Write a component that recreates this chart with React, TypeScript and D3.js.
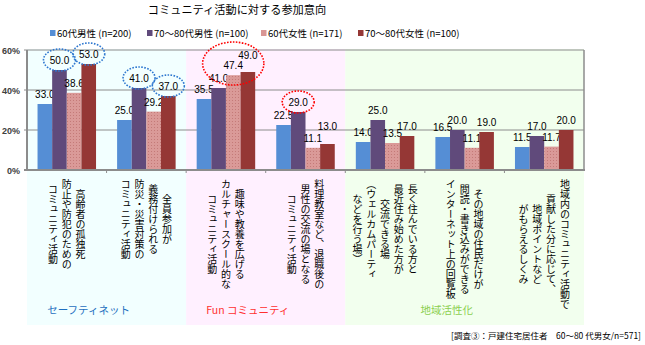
import React from 'react';
import * as d3 from 'd3';

const title = 'コミュニティ活動に対する参加意向';
const seriesNames = ['60代男性 (n=200)', '70～80代男性 (n=100)', '60代女性 (n=171)', '70～80代女性 (n=100)'];
const seriesColors = ['#558ED5', '#604A7B', 'url(#pinkDots)', '#953735'];
const legendColors = ['#558ED5', '#604A7B', '#D99694', '#953735'];

const categoryLines: string[][] = [
  ['高齢者の孤独死', '防止や防犯のための', 'コミュニティ活動'],
  ['全員参加が', '義務付けられる', '防災・災害対策の', 'コミュニティ活動'],
  ['趣味や教養を広げる', 'カルチャースクール的な', 'コミュニティ活動'],
  ['料理教室など、退職後の', '男性の交流の場となる', 'コミュニティ活動'],
  ['長く住んでいる方と', '最近住み始めた方が', '交流できる場', '（ウェルカムパーティ', 'などを行う場）'],
  ['その地域の住民だけが', '閲読・書き込みができる', 'インターネット上の回覧板'],
  ['地域内のコミュニティ活動で', '貢献した分に応じて、', '地域ポイントなど', 'がもらえるしくみ'],
];

const male60 = [33.0, 25.0, 35.5, 22.5, 14.0, 16.5, 11.5];
const male7080 = [50.0, 41.0, 41.0, 29.0, 25.0, 20.0, 17.0];
const female60 = [38.6, 29.2, 47.4, 11.1, 13.5, 11.1, 11.7];
const female7080 = [53.0, 37.0, 49.0, 13.0, 17.0, 19.0, 20.0];
const seriesValues = [male60, male7080, female60, female7080];

const yTicks = [0, 20, 40, 60];

const sectionNames = ['セーフティネット', 'Fun コミュニティ', '地域活性化'];
const sectionStart = [0, 2, 4];
const sectionEnd = [2, 4, 7];
const sectionBg = ['#F2FFFF', '#FFF0FF', '#F2FFEE'];
const sectionText = ['#1F6FC0', '#FF3030', '#8CCF50'];

// highlighted labels: category, series list, colour
const highlightCats = [0, 0, 1, 1, 2, 3];
const highlightSeries = [[1], [3], [1], [3], [1, 2, 3], [1]];
const highlightColors = ['#2F78D0', '#2F78D0', '#2F78D0', '#2F78D0', '#FF0000', '#FF0000'];

// labels that were moved by hand in the original
const nudgeCat = [2, 3];
const nudgeSeries = [3, 3];
const nudgeDy = [-7, -8];

const footnote = '[調査③：戸建住宅居住者　60～80 代男女/n=571]';

const W = 645, H = 345;
const left = 27, right = 584, top = 50, bottom = 170;
const jp = '"Noto Sans CJK JP", sans-serif';
const num = '"Liberation Sans", Arial, sans-serif';

export default function App() {
  const idx = d3.range(categoryLines.length);
  const x = d3.scaleBand<number>().domain(idx).range([left, right]).padding(0);
  const xs = d3.scaleBand<number>().domain(d3.range(4)).range([0, x.bandwidth()]).paddingInner(0).paddingOuter(0.72);
  const y = d3.scaleLinear().domain([0, 60]).range([bottom, top]);

  const labelPos = (c: number, s: number) => {
    let dy = 0;
    nudgeCat.forEach((nc, k) => { if (nc === c && nudgeSeries[k] === s) dy = nudgeDy[k]; });
    return {
      cx: (x(c) as number) + (xs(s) as number) + xs.bandwidth() / 2,
      cy: y(seriesValues[s][c]) - 10 + dy,
    };
  };

  const fs = 10;
  const colStep = 13.8;
  const textTop = 179;

  return (
    <svg width={W} height={H} style={{ position: 'absolute', left: 0, top: 0 }}>
      <defs>
        <pattern id="pinkDots" width="3" height="3" patternUnits="userSpaceOnUse">
          <rect width="3" height="3" fill="#DA9A98" />
          <rect x="1" y="1" width="1" height="1" fill="#C47A78" />
        </pattern>
      </defs>
      <rect width={W} height={H} fill="#fff" />
      {sectionNames.map((n, i) => {
        const x0 = x(sectionStart[i]) as number;
        const x1 = (x(sectionEnd[i] - 1) as number) + x.bandwidth();
        return <rect key={n} x={x0} y={top - 1} width={x1 - x0} height={326 - top} fill={sectionBg[i]} />;
      })}
      <text x={237} y={14} textAnchor="middle" fontFamily={jp} fontSize={11.2} fill="#000">{title}</text>
      {seriesNames.map((n, i) => {
        const lx = [50, 147, 261, 358][i];
        return (
          <g key={n}>
            <rect x={lx} y={30} width={5.5} height={6} fill={legendColors[i]} />
            <text x={lx + 7} y={36.5} fontFamily={jp} fontSize={9.5} fill="#000">{n}</text>
          </g>
        );
      })}
      {yTicks.filter(t => t > 0).map(t => (
        <line key={t} x1={left - 3} x2={right} y1={y(t)} y2={y(t)} stroke="#8C8C8C" strokeWidth={1} />
      ))}
      <line x1={right} x2={right} y1={top} y2={bottom} stroke="#8C8C8C" strokeWidth={1.5} />
      {yTicks.map(t => (
        <text key={t} x={20} y={y(t) + 3.5} textAnchor="end" fontFamily={num} fontSize={9} fontWeight="bold" fill="#404040">{t}%</text>
      ))}
      {seriesValues.map((vals, s) => (
        <g key={s}>
          {vals.map((v, c) => (
            <rect key={c} x={(x(c) as number) + (xs(s) as number)} y={y(v)} width={xs.bandwidth()} height={bottom - y(v)} fill={seriesColors[s]} />
          ))}
          {vals.map((v, c) => {
            const p = labelPos(c, s);
            return (
              <text key={'l' + c} x={p.cx} y={p.cy + 4} textAnchor="middle" fontFamily={num} fontSize={10} fill="#000">{v.toFixed(1)}</text>
            );
          })}
        </g>
      ))}
      {highlightCats.map((c, i) => {
        const pts = highlightSeries[i].map(s => labelPos(c, s));
        const xMin = d3.min(pts, p => p.cx) as number;
        const xMax = d3.max(pts, p => p.cx) as number;
        const yMin = d3.min(pts, p => p.cy) as number;
        const yMax = d3.max(pts, p => p.cy) as number;
        const multi = pts.length > 1;
        return (
          <ellipse key={i} cx={(xMin + xMax) / 2} cy={(yMin + yMax) / 2 - (multi ? 3 : 0)}
            rx={(xMax - xMin) / 2 + 16} ry={(yMax - yMin) / 2 + (multi ? 10 : 11)}
            fill="none" stroke={highlightColors[i]} strokeWidth={1.6} strokeDasharray="1.6 1.4" />
        );
      })}
      <line x1={left} x2={left} y1={top} y2={bottom} stroke="#8C8C8C" strokeWidth={2} />
      <line x1={left - 3} x2={right + 1} y1={bottom} y2={bottom} stroke="#8C8C8C" strokeWidth={2} />
      {d3.range(1, categoryLines.length).map(c => (
        <line key={c} x1={x(c) as number} x2={x(c) as number} y1={bottom} y2={bottom + 3} stroke="#8C8C8C" strokeWidth={1} />
      ))}
      {categoryLines.map((lines, c) => {
        const cx = (x(c) as number) + x.bandwidth() / 2;
        const maxLen = d3.max(lines, l => l.length) as number;
        const midY = textTop + (maxLen * fs) / 2;
        const n = lines.length;
        return (
          <g key={c}>
            {lines.map((l, j) => (
              <text key={j} x={cx + ((n - 1) / 2 - j) * colStep} y={midY} textAnchor="middle"
                fontFamily={jp} fontSize={fs} fill="#000" style={{ writingMode: 'vertical-rl' }}>{l}</text>
            ))}
          </g>
        );
      })}
      {sectionNames.map((n, i) => {
        const x0 = x(sectionStart[i]) as number;
        const x1 = (x(sectionEnd[i] - 1) as number) + x.bandwidth();
        return <text key={n} x={(x0 + x1) / 2 - 18} y={314} textAnchor="middle" fontFamily={jp} fontSize={10.5} fill={sectionText[i]}>{n}</text>;
      })}
      <text x={641} y={339} textAnchor="end" fontFamily={jp} fontSize={8.5} fill="#000">{footnote}</text>
    </svg>
  );
}
